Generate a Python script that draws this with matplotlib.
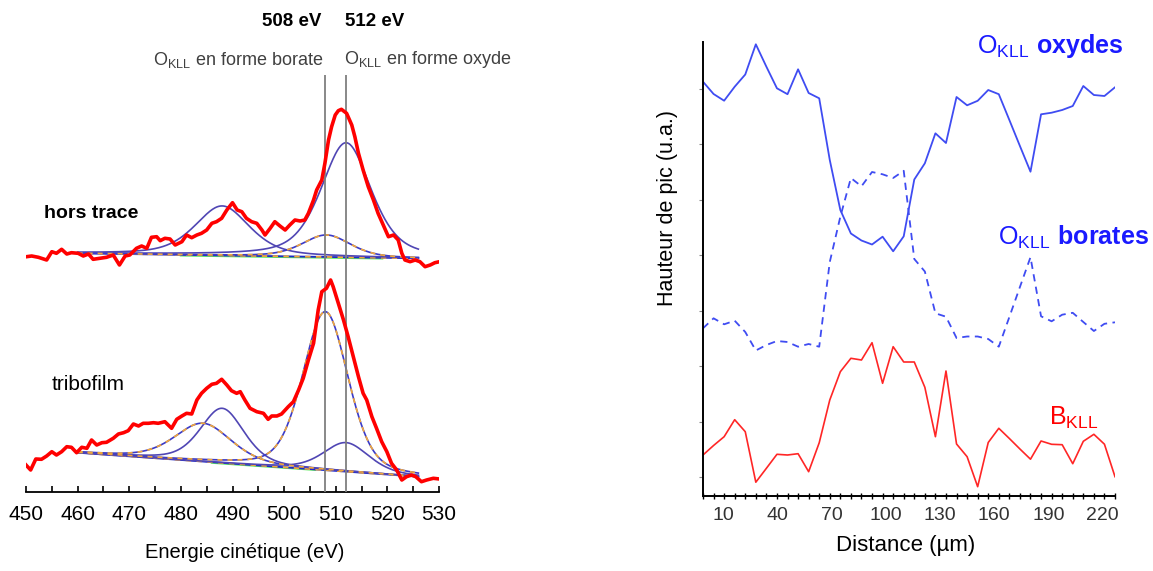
import numpy as np
import matplotlib
matplotlib.use("Agg")
import matplotlib.pyplot as plt

plt.rcParams["font.family"] = ["Liberation Sans", "DejaVu Sans"]
plt.rcParams["mathtext.fontset"] = "custom"
plt.rcParams["mathtext.rm"] = "Liberation Sans"
plt.rcParams["mathtext.bf"] = "Liberation Sans:bold"
plt.rcParams["mathtext.default"] = "regular"

# ---- left panel: Auger O KLL spectra (heights in arbitrary units) ----
e_hors = [450.1, 451.1, 452.4, 454.0, 455.0, 455.9, 456.9, 457.9, 458.8, 460.1,
          461.1, 462.1, 463.0, 464.3, 465.6, 466.9, 468.1, 469.2, 470.1, 471.4,
          472.4, 473.4, 474.3, 475.3, 476.0, 476.9, 477.9, 478.9, 480.2, 481.1,
          482.1, 483.1, 484.0, 485.0, 486.0, 486.9, 487.9, 488.9, 490.0, 490.9,
          491.8, 492.7, 493.7, 494.7, 495.7, 496.3, 497.3, 498.2, 499.2, 500.2,
          501.1, 502.1, 503.1, 504.0, 504.7, 505.7, 506.3, 507.3, 507.9, 508.6,
          509.2, 509.9, 510.5, 511.1, 512.1, 513.1, 513.7, 514.4, 515.3, 516.3,
          517.3, 518.2, 519.2, 520.2, 521.2, 522.1, 522.8, 523.4, 524.4, 525.4,
          526.3, 527.3, 528.3, 529.2, 530.1]
i_hors = [235.3, 236, 234.7, 232, 240.3, 238.7, 242.7, 238, 239.3, 238.7,
          236, 238, 232.7, 233.7, 234.7, 237, 227, 236, 237, 243.7,
          246, 243.7, 254.7, 255.3, 251.3, 253.7, 253, 247, 250.3, 257,
          254.3, 257, 258.7, 262, 268.7, 270.3, 273.7, 282, 289.3, 282,
          280.3, 273.7, 270.3, 268.7, 262, 257, 263.7, 270.3, 266, 262,
          267, 272, 271, 272, 278.7, 292, 302, 312, 328.7, 352,
          365.3, 377, 381.3, 382.7, 378.7, 367, 355.3, 338.7, 322, 305.3,
          292, 278.7, 267, 255.3, 257, 252, 238.7, 232, 230.3, 232,
          230.3, 225.3, 227, 229.3, 230.3]

e_tribo = [450.0, 450.9, 451.9, 453.0, 454.0, 455.0, 455.9, 456.9, 457.9, 458.8,
           459.8, 460.8, 461.8, 462.7, 463.7, 464.7, 465.6, 466.9, 467.9, 468.9,
           469.8, 470.8, 471.8, 472.7, 473.7, 474.7, 475.6, 476.9, 478.2, 479.2,
           480.2, 481.1, 482.1, 483.1, 484.0, 485.0, 486.0, 486.9, 487.9, 488.9,
           489.8, 490.8, 491.5, 492.4, 493.4, 494.7, 496.0, 496.9, 497.6, 498.6,
           499.5, 500.8, 501.8, 502.8, 503.7, 504.7, 505.7, 506.6, 507.3, 508.2,
           509.0, 509.5, 510.5, 511.5, 512.4, 513.4, 514.4, 515.3, 516.0, 517.0,
           517.9, 518.9, 519.9, 520.8, 521.8, 522.8, 523.7, 524.7, 525.5, 526.6,
           527.6, 528.9, 530.1]
i_tribo = [27, 22, 33, 32.7, 36, 40.3, 37, 40.3, 45.3, 44.7,
           39.3, 44.7, 43.7, 52, 47, 49.3, 49.7, 53.7, 58, 59.3,
           61.3, 68, 66, 68.7, 68.7, 69.3, 68.7, 70.3, 63.7, 72.7,
           76, 78.7, 78, 92, 98.7, 103.7, 107.7, 108.7, 112.7, 107,
           101.3, 98.7, 100.3, 92, 83.7, 80.3, 78.7, 72.7, 76, 76,
           78, 85.3, 90.3, 102, 113.7, 132, 148.7, 182, 200.3, 203.7,
           212, 205.3, 188.7, 172, 155.3, 135.3, 115.3, 98.7, 92, 75.3,
           63.7, 50.3, 40.3, 28.7, 22, 12, 15.3, 17, 15.3, 10.3,
           12, 13.7, 13]

# fitted components: background end points and peak parameters
bg_e = [460, 526]
bg_hors = [238.7, 233.7]
bg_tribo = [39.3, 15.3]
green_e_hors = [480, 519]
green_hors = [236.6, 233.6]
green_e_tribo = [486, 506]
green_tribo = [29.3, 22.2]
# (centre eV, amplitude, fwhm eV, lorentz fraction, dashed?)
peaks_hors = [(488.0, 49.5, 12.5, 0.5, False),
              (512.0, 114.5, 11.5, 0.5, False),
              (508.2, 22.0, 11.0, 0.4, True)]
peaks_tribo = [(484.3, 38.3, 13.0, 0.4, True),
               (488.0, 54.6, 10.0, 0.4, False),
               (508.0, 158.5, 10.3, 0.3, True),
               (512.0, 29.0, 10.4, 0.4, False)]

# ---- right panel: peak height profiles ----
distance = -1 + 5.84 * np.arange(40)
o_oxydes = [414.3, 402, 395.3, 409.3, 421.5, 451.7, 429.3, 407.7, 401.8, 426.7,
            403, 397.7, 336, 286, 262.5, 255.5, 251.5, 259.3, 244.7, 259.7,
            316.5, 332.7, 362.7, 353, 399, 390.7, 395.2, 406, 401.8, 376,
            350, 324.3, 381.7, 383.3, 386, 390, 410, 401, 400, 408.7]
o_borates = [167.7, 177.7, 171.7, 175.3, 164, 145.5, 151, 155, 154, 149.3,
             152, 149.3, 234, 279.3, 318, 309.7, 324, 321.7, 318, 325.2,
             237, 224.5, 182.7, 179.3, 158, 159.5, 159.5, 157, 149.3, 179,
             209, 238.8, 179.7, 174.7, 181.3, 183.2, 174, 165, 172.2, 173.7]
b_kll = [41, 50.5, 59.3, 76.3, 64.3, 13.8, 27.7, 41.7, 41, 42.3,
         24.3, 53.2, 96, 124.3, 137.7, 136, 153.3, 112.7, 149.3, 134,
         134, 108.7, 59.3, 125, 52, 39.3, 9.3, 53.5, 67.7, 57.5,
         47, 36.8, 55, 51.7, 51.3, 32.3, 54.7, 61.7, 51.8, 19.3]
dist_ticks = [10, 40, 70, 100, 130, 160, 190, 220]


def pseudo_voigt(e, centre, amp, fwhm, eta):
    x = (e - centre) / fwhm
    return amp * (eta / (1 + 4 * x ** 2) + (1 - eta) * np.exp(-4 * np.log(2) * x ** 2))


W, H = 1153, 571
fig = plt.figure(figsize=(W / 100, H / 100), dpi=100)

# ---------------- left panel ----------------
ax1 = fig.add_axes([26 / W, 1 - 492 / H, 413 / W, 492 / H])
e_fit = np.linspace(460, 526, 400)
peak_col = "#5046B4"
bg_col = "#1E28C8"
orange = "#F2A83A"

for bg, green_e, green_h, peaks in [(bg_hors, green_e_hors, green_hors, peaks_hors),
                                    (bg_tribo, green_e_tribo, green_tribo, peaks_tribo)]:
    base = np.interp(e_fit, bg_e, bg)
    ax1.plot(green_e, green_h, color="#5BEA5B", lw=1.6, zorder=1)
    ax1.plot(e_fit, base, color=bg_col, lw=1.3, zorder=2)
    ax1.plot(e_fit, base, color=orange, lw=1.3, dashes=(3, 3), zorder=2.1)
    for centre, amp, fwhm, eta, dashed in peaks:
        y = base + pseudo_voigt(e_fit, centre, amp, fwhm, eta)
        ax1.plot(e_fit, y, color=peak_col if not dashed else "#3A3AC8", lw=1.2, zorder=3)
        if dashed:
            ax1.plot(e_fit, y, color=orange, lw=1.2, dashes=(3, 3), zorder=3.1)

ax1.plot(e_hors, i_hors, color="#FF0000", lw=2.6, zorder=5)
ax1.plot(e_tribo, i_tribo, color="#FF0000", lw=2.6, zorder=5)
ax1.vlines([508, 512], 0, 417, color="#7F7F7F", lw=1.3, zorder=4)

ax1.set_xlim(450, 530)
ax1.set_ylim(0, 492)
for s in ["left", "right", "top"]:
    ax1.spines[s].set_visible(False)
ax1.spines["bottom"].set_linewidth(1.3)
ax1.set_yticks([])
ax1.set_xticks(np.arange(450, 531, 10))
ax1.set_xticks(np.arange(450, 531, 5), minor=True)
ax1.tick_params(axis="x", which="both", direction="in", length=4, width=1.2,
                labelsize=15, pad=9)

fig.text(292 / W, 1 - 22 / H, "508 eV", fontsize=13.5, fontweight="bold",
         ha="center", va="center")
fig.text(375 / W, 1 - 22 / H, "512 eV", fontsize=13.5, fontweight="bold",
         ha="center", va="center")
fig.text(238 / W, 1 - 60 / H, "O$_{KLL}$ en forme borate", fontsize=13,
         color="#404040", ha="center", va="center")
fig.text(428 / W, 1 - 60 / H, "O$_{KLL}$ en forme oxyde", fontsize=13,
         color="#404040", ha="center", va="center")
fig.text(44 / W, 1 - 213 / H, "hors trace", fontsize=14, fontweight="bold",
         ha="left", va="center")
fig.text(52 / W, 1 - 385 / H, "tribofilm", fontsize=15, ha="left", va="center")
fig.text(245 / W, 1 - 553 / H, "Energie cinétique (eV)", fontsize=14.5,
         ha="center", va="center")

# ---------------- right panel ----------------
ax2 = fig.add_axes([703 / W, 1 - 496 / H, 412 / W, 454.3 / H])
blue = "#3F4CF2"
ax2.plot(distance, o_oxydes, color=blue, lw=1.3)
ax2.plot(distance, o_borates, color=blue, lw=1.3, dashes=(4, 3))
ax2.plot(distance, b_kll, color="#FF2626", lw=1.2)
ax2.set_xlim(distance[0], distance[-1])
ax2.set_ylim(0, 454.3)
for s in ["right", "top"]:
    ax2.spines[s].set_visible(False)
for s in ["left", "bottom"]:
    ax2.spines[s].set_linewidth(1.4)
ax2.set_xticks(dist_ticks)
ax2.set_xticks(distance, minor=True)
ax2.set_yticks(np.arange(19, 454, 55.5))
ax2.set_yticklabels([])
ax2.tick_params(axis="x", which="major", length=0, labelsize=14, pad=8,
                labelcolor="#333333")
ax2.tick_params(axis="x", which="minor", direction="inout", length=4, width=1)
ax2.tick_params(axis="y", direction="out", length=3, width=0.8, colors="#888888")

fig.text(1050 / W, 1 - 46 / H, r"$\mathregular{O_{KLL}}\ \mathbf{oxydes}$",
         fontsize=18, color="#1A1AFF", ha="center", va="center")
fig.text(1073 / W, 1 - 237 / H, r"$\mathregular{O_{KLL}}\ \mathbf{borates}$",
         fontsize=18, color="#1A1AFF", ha="center", va="center")
fig.text(1074 / W, 1 - 418 / H, r"$\mathregular{B_{KLL}}$",
         fontsize=18, color="#FF0000", ha="center", va="center")
fig.text(668 / W, 1 - 208 / H, "Hauteur de pic (u.a.)", fontsize=15.5,
         rotation=90, ha="center", va="center")
fig.text(906 / W, 1 - 545 / H, "Distance (µm)", fontsize=16,
         ha="center", va="center")

fig.savefig("out.png", dpi=100)
